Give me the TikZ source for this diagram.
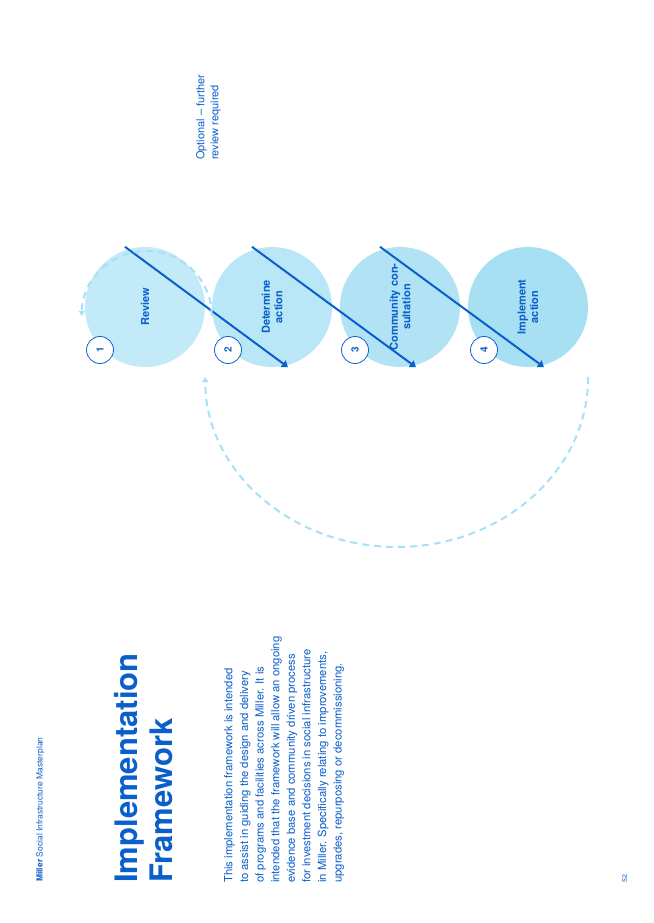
\documentclass[tikz,border=0pt]{standalone}
\usepackage{fontspec}
\setmainfont{TeX Gyre Heros}
\usetikzlibrary{arrows.meta}
\definecolor{dblue}{HTML}{0B5FCB}
\definecolor{dashblue}{HTML}{A8E1F6}
\definecolor{ca}{HTML}{C2EAF8}
\definecolor{cb}{HTML}{BAE7F7}
\definecolor{cc}{HTML}{B1E3F5}
\definecolor{cd}{HTML}{A7DFF3}
\tikzset{
  stage/.style={circle,minimum size=120pt,inner sep=0pt,align=center,rotate=90,text=dblue,font=\bfseries\fontsize{11}{12.5}\selectfont},
  num/.style={circle,draw=dblue,line width=0.8pt,fill=white,minimum size=27pt,inner sep=0pt,rotate=90,text=dblue,font=\bfseries\fontsize{10}{12}\selectfont},
  flow/.style={dblue,line width=2pt,-{Triangle[length=6pt,width=8pt]}},
  loop/.style={draw=dashblue,line width=2pt,dash pattern=on 7pt off 5pt,-{Triangle[length=5pt,width=6pt]}},
  txt/.style={rotate=90,text=dblue,align=left,inner sep=0pt}
}
\begin{document}
\begin{tikzpicture}[x=1pt,y=-1pt]
\useasboundingbox[fill=white] (0,0) rectangle (653,923);
\node[stage,fill=ca] (c1) at (145,307) {Review};
\node[stage,fill=cb] (c2) at (272,307) {Determine\\action};
\node[stage,fill=cc] (c3) at (400,307) {Community con-\\sultation};
\node[stage,fill=cd] (c4) at (528,307) {Implement\\action};
\node[num] (n1) at (100,350) {1};
\node[num] (n2) at (228,350) {2};
\node[num] (n3) at (355,350) {3};
\node[num] (n4) at (484,350) {4};
\draw[flow] ([xshift=-20pt]c1.east) -- ([xshift=16pt]c2.west);
\draw[flow] ([xshift=-20pt]c2.east) -- ([xshift=16pt]c3.west);
\draw[flow] ([xshift=-20pt]c3.east) -- ([xshift=16pt]c4.west);
\draw[loop] ([yshift=-9pt]c2.north) arc[start angle=0,end angle=-180,radius=65];
\draw[loop] ([yshift=-70pt]c4.south) arc[start angle=0,end angle=180,x radius=191.5,y radius=170];
\node[txt,anchor=north west,font=\fontsize{11}{14}\selectfont] (opt) at (196,160) {Optional – further\\review required};
\node[txt,anchor=north west,font=\fontsize{8.5}{10}\selectfont] (hdr) at (36,882) {\textbf{Miller} Social Infrastructure Masterplan};
\node[txt,anchor=north west,font=\bfseries\fontsize{31}{35}\selectfont] (title) at (114,883) {Implementation\\Framework};
\node[txt,anchor=north west,font=\fontsize{11.3}{15.6}\selectfont] (body) at (224,883) {This implementation framework is intended\\to assist in guiding the design and delivery\\of programs and facilities across Miller. It is\\intended that the framework will allow an ongoing\\evidence base and community driven process\\for investment decisions in social infrastructure\\in Miller. Specifically relating to improvements,\\upgrades, repurposing or decommissioning.};
\node[txt,anchor=north west,font=\fontsize{7}{8}\selectfont] (pg) at (622,883) {52};
\end{tikzpicture}
\end{document}
